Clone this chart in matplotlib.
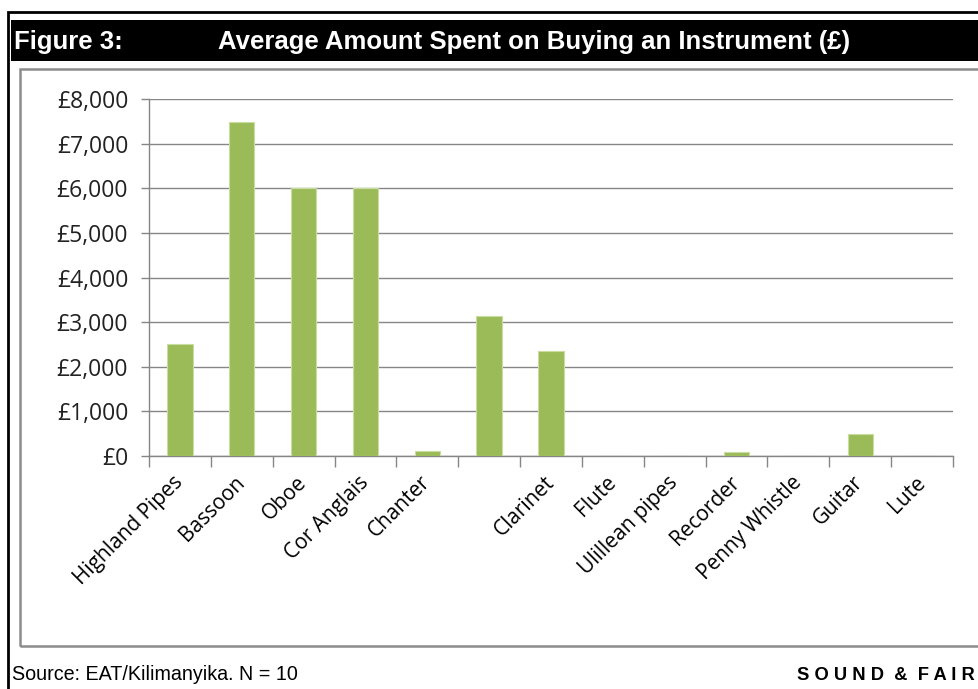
import numpy as np
import matplotlib.pyplot as plt
from matplotlib.patches import Rectangle
from matplotlib.ticker import FuncFormatter, FixedLocator

instruments = ["Highland Pipes", "Bassoon", "Oboe", "Cor Anglais", "Chanter", "",
               "Clarinet", "Flute", "Ulillean pipes", "Recorder", "Penny Whistle",
               "Guitar", "Lute"]
avg_spend = [2500, 7500, 6000, 6000, 110, 3140, 2350, 0, 0, 80, 0, 490, 0]
y_ticks = [0, 1000, 2000, 3000, 4000, 5000, 6000, 7000, 8000]

W, H = 979, 689
fig = plt.figure(figsize=(W / 100, H / 100), dpi=100)

def px(x0, y0, x1, y1):
    # pixel box (top-left origin) -> figure fraction
    return [x0 / W, 1 - y1 / H, (x1 - x0) / W, (y1 - y0) / H]

# outer frame and black title band
fig.patches.append(Rectangle((8 / W, -0.1), 1.2, 1 - 11.5 / H + 0.1, transform=fig.transFigure,
                             fill=False, edgecolor='black', linewidth=2))
fig.patches.append(Rectangle((11 / W, 1 - 61 / H), 1.0, 41 / H, transform=fig.transFigure,
                             facecolor='black', edgecolor='none'))
# chart area frame
fig.patches.append(Rectangle((20 / W, 1 - 646 / H), 1.2, (646 - 69) / H, transform=fig.transFigure,
                             fill=False, edgecolor='#8c8c8c', linewidth=1.8))

fig.text(14 / W, 1 - 42 / H, "Figure 3:", color='white', fontsize=18.5, fontweight='bold',
         family='Liberation Sans', va='center', ha='left')
fig.text(218 / W, 1 - 42 / H, "Average Amount Spent on Buying an Instrument (\u00a3)", color='white',
         fontsize=18.5, fontweight='bold', family='Liberation Sans', va='center', ha='left')

fig.text(12 / W, 1 - 674 / H, "Source: EAT/Kilimanyika. N = 10", fontsize=14.2,
         family='Liberation Sans', va='center', ha='left')
fig.text(975 / W, 1 - 675 / H, "S O U N D  &  F A I R", fontsize=13.2, fontweight='bold',
         family='Liberation Sans', va='center', ha='right')

ax = fig.add_axes(px(149, 99.3, 953, 455.7))
x = np.arange(len(instruments))
ax.bar(x, avg_spend, width=0.41, color='#9BBB59', edgecolor='#C9DDA0', linewidth=0.8, zorder=3)

ax.set_xlim(-0.5, len(instruments) - 0.5)
ax.set_ylim(0, 8000)
ax.set_yticks(y_ticks)
ax.yaxis.set_major_formatter(FuncFormatter(lambda v, p: "\u00a3{:,.0f}".format(v)))
ax.grid(axis='y', color='#868686', linewidth=1, zorder=0)

ax.set_xticks(x)
ax.set_xticklabels(instruments, rotation=45, ha='right', va='center', rotation_mode='anchor',
                   family='Open Sans', fontsize=15)
ax.xaxis.set_minor_locator(FixedLocator(np.arange(-0.5, len(instruments), 1)))
ax.tick_params(axis='x', which='major', length=0, pad=17)
ax.tick_params(axis='x', which='minor', length=8, color='#868686', width=1)
ax.tick_params(axis='y', length=6, color='#868686', width=1, pad=9)
for lbl in ax.get_yticklabels():
    lbl.set_family('Open Sans')
    lbl.set_fontsize(16.5)
    lbl.set_color('#222222')

for s in ['top', 'right']:
    ax.spines[s].set_visible(False)
for s in ['left', 'bottom']:
    ax.spines[s].set_color('#868686')
    ax.spines[s].set_linewidth(1)

fig.savefig('out.png', dpi=100)
